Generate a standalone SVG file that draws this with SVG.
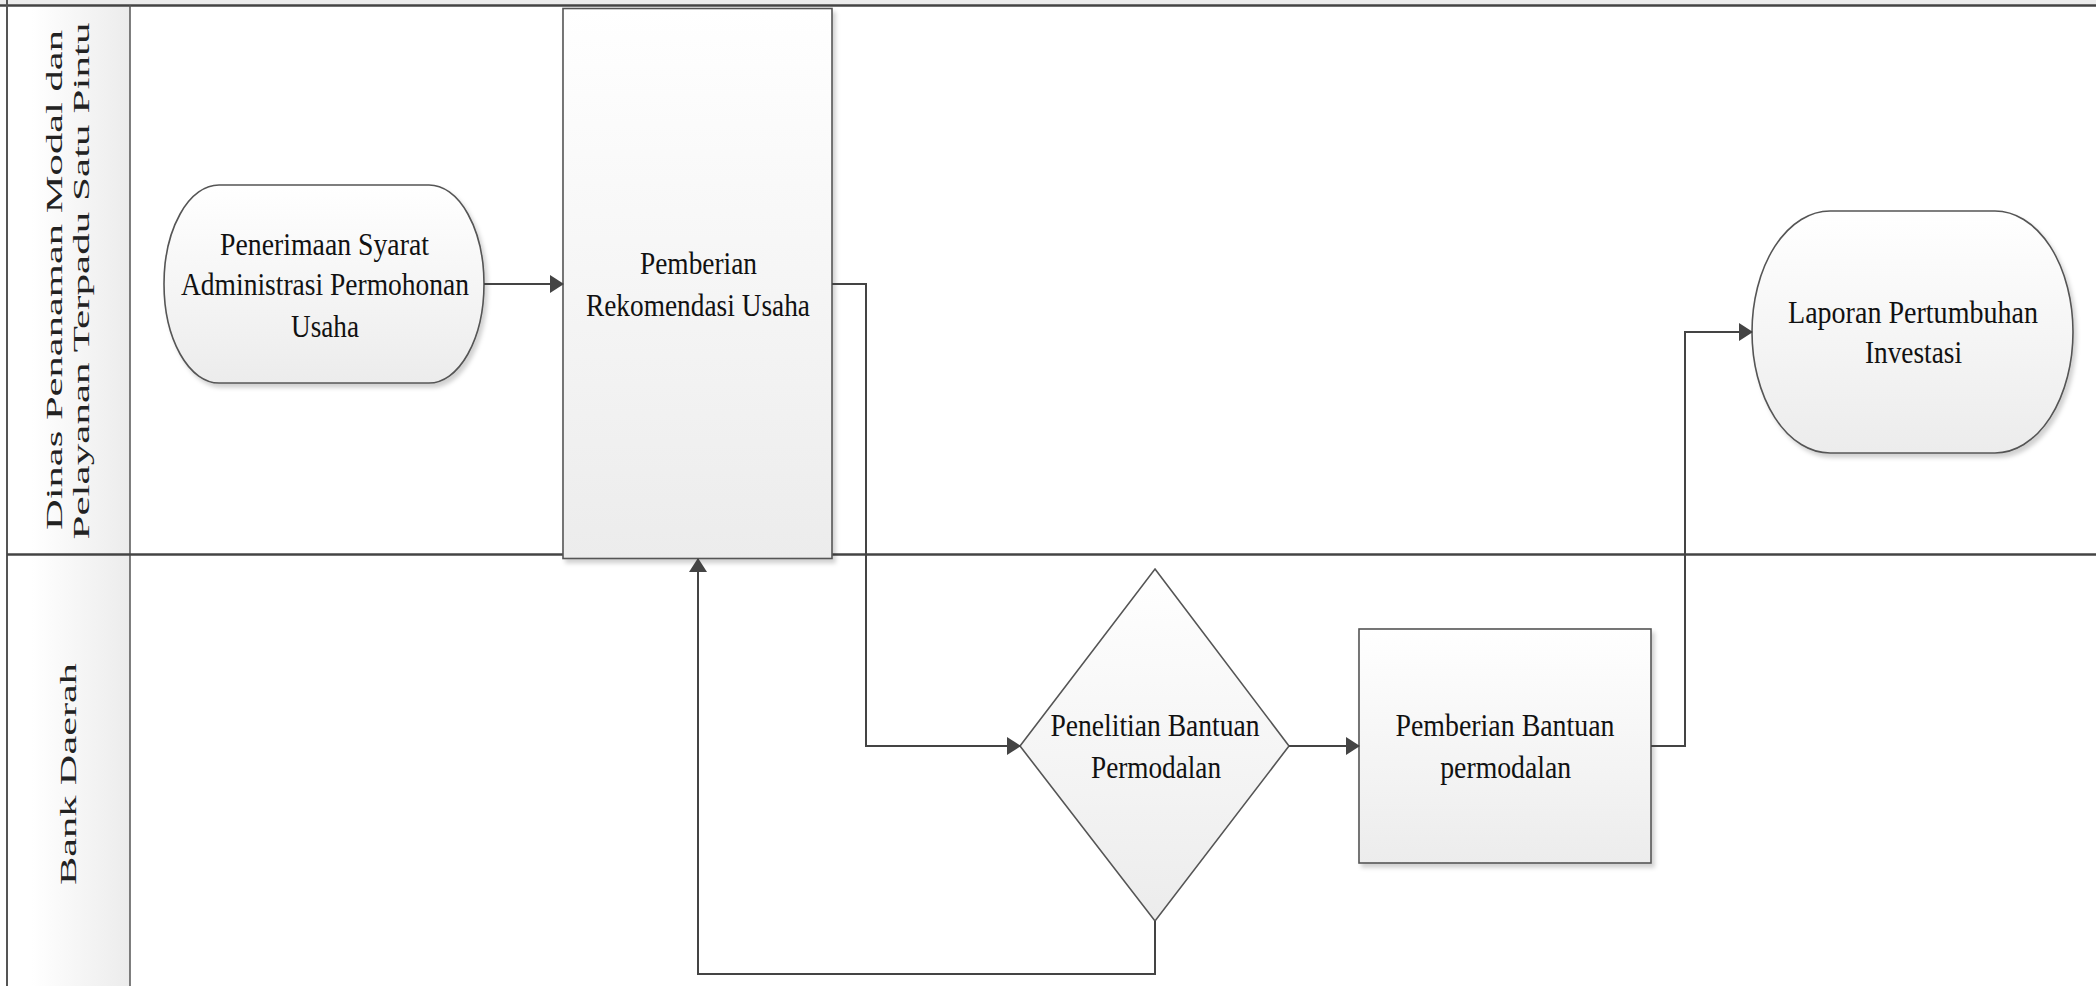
<svg xmlns="http://www.w3.org/2000/svg" width="2096" height="986" viewBox="0 0 2096 986">
  <style>
    .lane { stroke: #444; stroke-width: 2.5; fill: none; }
    .node { stroke: #555; stroke-width: 1.6; fill: url(#nodeGrad); }
    .shadow { filter: url(#shadow); }
    .conn { stroke: #444; stroke-width: 2; fill: none; }
    .ntext { font-family: "Liberation Serif", "Times New Roman", serif; font-size: 31px; fill: #111; text-anchor: middle; }
    .htext { font-family: "Liberation Serif", "Times New Roman", serif; font-size: 23px; fill: #222; text-anchor: middle; }
  </style>
  <defs>
    <linearGradient id="nodeGrad" x1="0" y1="0" x2="0" y2="1">
      <stop offset="0" stop-color="#ffffff"/>
      <stop offset="1" stop-color="#ececec"/>
    </linearGradient>
    <linearGradient id="headGrad" x1="0" y1="0" x2="1" y2="0">
      <stop offset="0.2" stop-color="#ffffff"/>
      <stop offset="1" stop-color="#ececec"/>
    </linearGradient>
    <filter id="shadow" x="-10%" y="-10%" width="130%" height="130%">
      <feDropShadow dx="3" dy="4" stdDeviation="2" flood-color="#000" flood-opacity="0.18"/>
    </filter>
    <marker id="arrow" viewBox="0 0 14 18" refX="13" refY="9" markerWidth="14" markerHeight="18" markerUnits="userSpaceOnUse" orient="auto">
      <path d="M0,0 L14,9 L0,18 z" fill="#444"/>
    </marker>
  </defs>

  <rect x="0" y="0" width="2096" height="986" fill="#ffffff"/>

  <g id="pool">
    <rect x="0" y="0" width="2096" height="5" fill="#ececec"/>
    <rect x="7" y="5" width="123" height="981" fill="url(#headGrad)"/>
    <line class="lane" x1="0" y1="5.5" x2="2096" y2="5.5"/>
    <line x1="7" y1="0" x2="7" y2="986" stroke="#555" stroke-width="2"/>
    <line x1="130" y1="5" x2="130" y2="986" stroke="#555" stroke-width="1.5"/>
    <line class="lane" x1="7" y1="554.5" x2="2096" y2="554.5"/>
  </g>

  <g id="lane-dinas">
    <text class="htext" transform="rotate(-90)" x="-280" y="61.5" textLength="500" lengthAdjust="spacingAndGlyphs">Dinas Penanaman Modal dan</text>
    <text class="htext" transform="rotate(-90)" x="-281" y="89.3" textLength="517" lengthAdjust="spacingAndGlyphs">Pelayanan Terpadu Satu Pintu</text>
  </g>

  <g id="lane-bank">
    <text class="htext" transform="rotate(-90)" x="-774" y="76" textLength="222" lengthAdjust="spacingAndGlyphs">Bank Daerah</text>
  </g>

  <g id="node-penerimaan">
    <rect class="node shadow" x="164" y="185" width="320" height="198" rx="55" ry="99"/>
    <text class="ntext" x="324.5" y="254.5" textLength="209" lengthAdjust="spacingAndGlyphs">Penerimaan Syarat</text>
    <text class="ntext" x="325" y="294.7" textLength="288" lengthAdjust="spacingAndGlyphs">Administrasi Permohonan</text>
    <text class="ntext" x="325" y="336.8" textLength="68" lengthAdjust="spacingAndGlyphs">Usaha</text>
  </g>

  <g id="node-rekomendasi">
    <rect class="node shadow" x="563" y="8.5" width="269" height="550"/>
    <text class="ntext" x="698.5" y="273.6" textLength="117" lengthAdjust="spacingAndGlyphs">Pemberian</text>
    <text class="ntext" x="698" y="315.7" textLength="224" lengthAdjust="spacingAndGlyphs">Rekomendasi Usaha</text>
  </g>

  <g id="node-penelitian">
    <polygon class="node" points="1155,569 1289,746 1155,921 1020,746"/>
    <text class="ntext" x="1155" y="735.7" textLength="209" lengthAdjust="spacingAndGlyphs">Penelitian Bantuan</text>
    <text class="ntext" x="1156" y="778" textLength="130" lengthAdjust="spacingAndGlyphs">Permodalan</text>
  </g>

  <g id="node-bantuan">
    <rect class="node shadow" x="1359" y="629" width="292" height="234"/>
    <text class="ntext" x="1505" y="736" textLength="219" lengthAdjust="spacingAndGlyphs">Pemberian Bantuan</text>
    <text class="ntext" x="1505.7" y="778" textLength="131" lengthAdjust="spacingAndGlyphs">permodalan</text>
  </g>

  <g id="node-laporan">
    <rect class="node shadow" x="1752" y="211" width="321" height="242" rx="78" ry="121"/>
    <text class="ntext" x="1913" y="322.7" textLength="250" lengthAdjust="spacingAndGlyphs">Laporan Pertumbuhan</text>
    <text class="ntext" x="1913.5" y="363.3" textLength="97" lengthAdjust="spacingAndGlyphs">Investasi</text>
  </g>

  <g id="connectors">
    <path class="conn" d="M484,284 H563" marker-end="url(#arrow)"/>
    <path class="conn" d="M832,284 H866 V746 H1020" marker-end="url(#arrow)"/>
    <path class="conn" d="M1289,746 H1359" marker-end="url(#arrow)"/>
    <path class="conn" d="M1651,746 H1685 V332 H1752" marker-end="url(#arrow)"/>
    <path class="conn" d="M1155,921 V974 H698 V559" marker-end="url(#arrow)"/>
  </g>
</svg>
